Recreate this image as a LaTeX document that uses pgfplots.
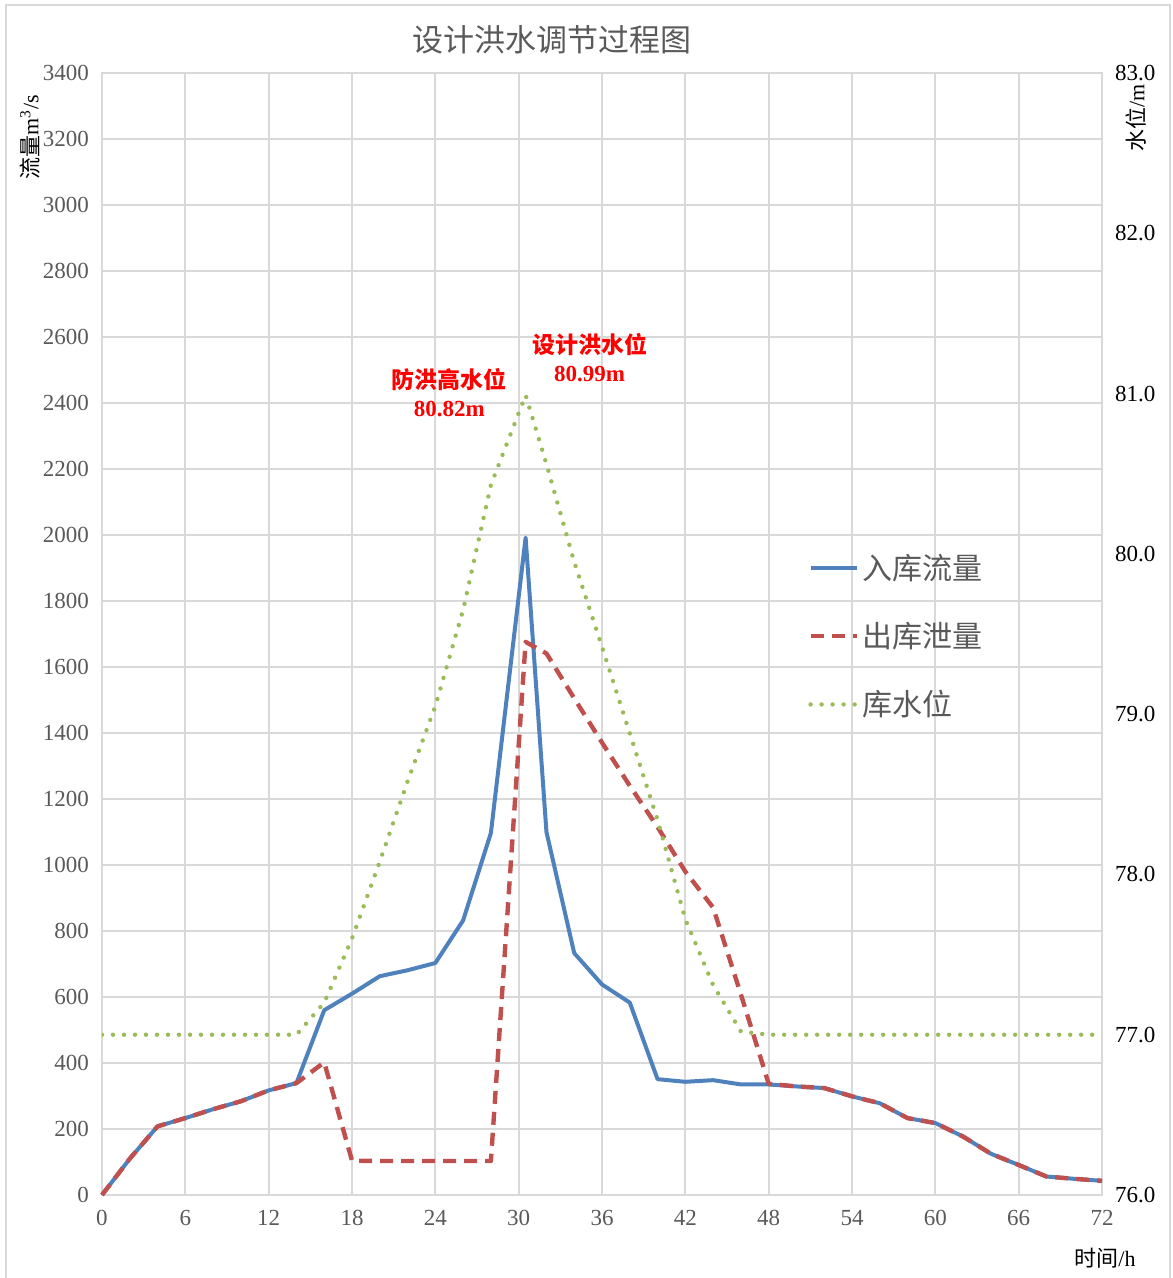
\documentclass[border=0pt]{standalone}
\usepackage{fontspec}
\setmainfont{Liberation Serif}
\newfontfamily\cjk{Noto Sans CJK SC}
\usepackage{pgfplots}
\pgfplotsset{compat=1.18}
\definecolor{cblue}{HTML}{4F81BD}
\definecolor{cred}{HTML}{C0504D}
\definecolor{cgreen}{HTML}{9BBB59}
\definecolor{cgrid}{HTML}{D9D9D9}
\definecolor{ctext}{HTML}{595959}
\begin{document}
\begin{tikzpicture}
\useasboundingbox (-51pt,-41.5pt) rectangle (535pt,597.5pt);
\draw[cgrid, line width=1pt] (-48pt,-50pt) -- (-48pt,595pt) -- (534pt,595pt) -- (534pt,-50pt);
\begin{axis}[
  scale only axis, width=500pt, height=561pt,
  xmin=0, xmax=72, ymin=0, ymax=3400,
  xtick={0,6,...,72}, ytick={0,200,...,3400},
  grid=major, major grid style={cgrid, line width=0.9pt},
  axis line style={cgrid, line width=0.9pt},
  tick style={draw=none},
  /pgf/number format/assume math mode=true,
  /pgf/number format/1000 sep={},
  ticklabel style={font=\fontsize{11.5}{12}\selectfont, text=ctext},
  xticklabel style={yshift=-4pt},
  yticklabel style={xshift=-3pt},
  legend image code/.code={\draw[#1] (0pt,0pt) -- (23pt,0pt);},
  legend style={draw=none, fill=none, at={(0.70,0.498)}, anchor=west,
    row sep=16pt, font=\cjk\fontsize{15}{16}\selectfont, text=ctext},
  legend cell align=left,
  clip=false,
]
\addplot[cblue, line width=2pt, line join=round] coordinates {
(0,0) (2,110) (4,208) (6,233) (8,260) (10,284) (12,317) (14,339) (16,560) (18,610)
(20,663) (22,681) (24,703) (26,832) (28,1097) (30.5,1992) (32,1100) (34,733) (36,638)
(38,583) (40,351) (42,343) (44,348) (46,335) (48,335) (50,329) (52,324) (54,299)
(56,278) (58,233) (60,218) (62,177) (64,125) (66,91) (68,56) (70,49) (72,43)};
\addlegendentry{入库流量}
\addplot[cred, line width=2.2pt, dash pattern=on 6.5pt off 4pt, line join=round] coordinates {
(0,0) (2,110) (4,208) (6,233) (8,260) (10,284) (12,317) (14,339) (16,402) (18,104)
(20,103) (22,103) (24,103) (26,103) (28,103) (30.5,1676) (32,1641) (34,1505) (36,1371)
(38,1240) (40,1115) (42,980) (44,871) (46,608) (48,337) (50,329) (52,324) (54,299)
(56,278) (58,233) (60,218) (62,177) (64,125) (66,91) (68,56) (70,49) (72,43)};
\addlegendentry{出库泄量}
\addlegendimage{cgreen, line width=2.2pt, dash pattern=on 0pt off 5.5pt, line cap=round}
\addlegendentry{库水位}
\node[text=red, align=center, font=\fontsize{11.5}{14}\selectfont\bfseries] at (axis cs:25,2430) {{\cjk 防洪高水位}\\80.82m};
\node[text=red, align=center, font=\fontsize{11.5}{14}\selectfont\bfseries] at (axis cs:35.1,2536) {{\cjk 设计洪水位}\\80.99m};
\node[font=\cjk\fontsize{15.5}{16}\selectfont, text=ctext] at (rel axis cs:0.45,1) [yshift=16.5pt] {设计洪水调节过程图};
\node[xshift=-36pt, rotate=90, font=\fontsize{11}{12}\selectfont] at (rel axis cs:0,0.943) {{\cjk 流量}m\textsuperscript{3}/s};
\node[font=\fontsize{11}{12}\selectfont] at (rel axis cs:1.003,0) [yshift=-31.5pt] {{\cjk 时间}/h};
\node[xshift=17pt, rotate=90, font=\fontsize{11}{12}\selectfont] at (rel axis cs:1,0.96) {{\cjk 水位}/m};
\end{axis}
\begin{axis}[
  scale only axis, width=500pt, height=561pt,
  xmin=0, xmax=72, ymin=76, ymax=83,
  hide x axis, axis y line*=right,
  axis line style={draw=none},
  ytick={76,77,...,83}, tick style={draw=none},
  /pgf/number format/assume math mode=true,
  yticklabel style={/pgf/number format/.cd, fixed, fixed zerofill, precision=1},
  ticklabel style={font=\fontsize{11.5}{12}\selectfont, text=black, xshift=3pt},
]
\addplot[cgreen, line width=2.2pt, dash pattern=on 0pt off 5.5pt, line cap=round] coordinates {
(0,77.0) (14,77.0) (16,77.2) (18,77.6) (20,78.08) (22,78.58) (24,79.05) (26,79.65)
(28,80.43) (30.5,80.99) (32,80.56) (34,79.95) (36,79.42) (38,78.88) (40,78.34)
(42,77.72) (44,77.31) (46,77.02) (48,77.0) (72,77.0)};
\end{axis}
\end{tikzpicture}
\end{document}
